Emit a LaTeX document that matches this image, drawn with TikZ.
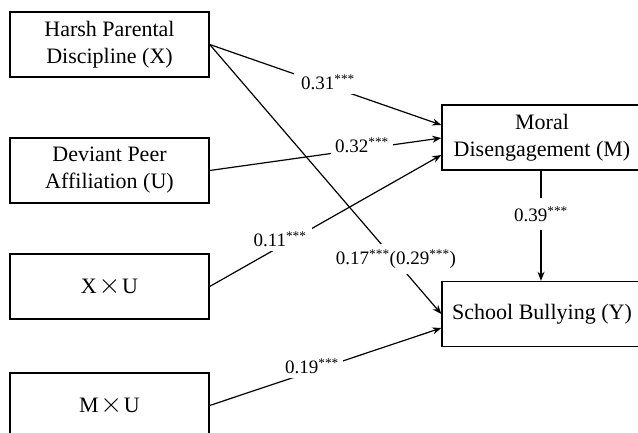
\documentclass[tikz,border=0pt]{standalone}
\usepackage{fontspec}
\usepackage{graphicx}
\setmainfont{Liberation Serif}
\usetikzlibrary{arrows.meta}
\tikzset{
  box/.style={draw, line width=1.4pt, minimum width=199pt, minimum height=65pt, inner sep=0pt, align=center,
    font=\fontsize{22}{27}\selectfont},
  rbox/.style={box, minimum width=200pt},
  edge/.style={line width=1.2pt, -{Stealth[length=9pt,width=7pt]}},
  lbl/.style={fill=white, inner sep=4pt, font=\fontsize{19}{22}\selectfont},
}
\newcommand{\stars}{\textsuperscript{***}}
\newcommand{\bytimes}{\hspace{0.08em}\raisebox{-0.5pt}{\scalebox{1.35}{$\times$}}\hspace{0.08em}}
\begin{document}
\begin{tikzpicture}[x=1pt,y=-1pt]
\clip (0,0) rectangle (638,433);
\fill[white] (0,0) rectangle (638,433);
\node[box] (X) at (109.5,44.5) {Harsh Parental\\Discipline (X)};
\node[box] (U) at (109.5,170.5) {Deviant Peer\\Affiliation (U)};
\node[box] (XU) at (109.5,286.5) {X\bytimes U};
\node[box] (MU) at (109.5,405.5) {M\bytimes U};
\node[rbox] (M) at (542,137.5) {Moral\\Disengagement (M)};
\node[rbox] (Y) at (542,314) {School Bullying (Y)};

\draw[edge] (X.east) -- ([yshift=12.5pt]M.west);
\draw[edge] (X.east) -- (Y.west);
\draw[edge] (U.east) -- ([yshift=-0.5pt]M.west);
\draw[edge] (XU.east) -- ([yshift=-17.5pt]M.west);
\draw[edge] (MU.east) -- ([yshift=-14pt]Y.west);
\draw[edge] (M.south -| 541,0) -- (Y.north -| 541,0);

\node[lbl, inner xsep=7pt] (l31) at (328,82) {0.31\stars};
\node[lbl] (l32) at (362,145) {0.32\stars};
\node[lbl, inner xsep=6pt] (l11) at (280,239) {0.11\stars};
\node[lbl, inner sep=5pt] (l17) at (396,259) {0.17\stars(0.29\stars)};
\node[lbl] (l19) at (312,366) {0.19\stars};
\node[lbl, inner ysep=8pt] (l39) at (541,214) {0.39\stars};
\end{tikzpicture}
\end{document}
